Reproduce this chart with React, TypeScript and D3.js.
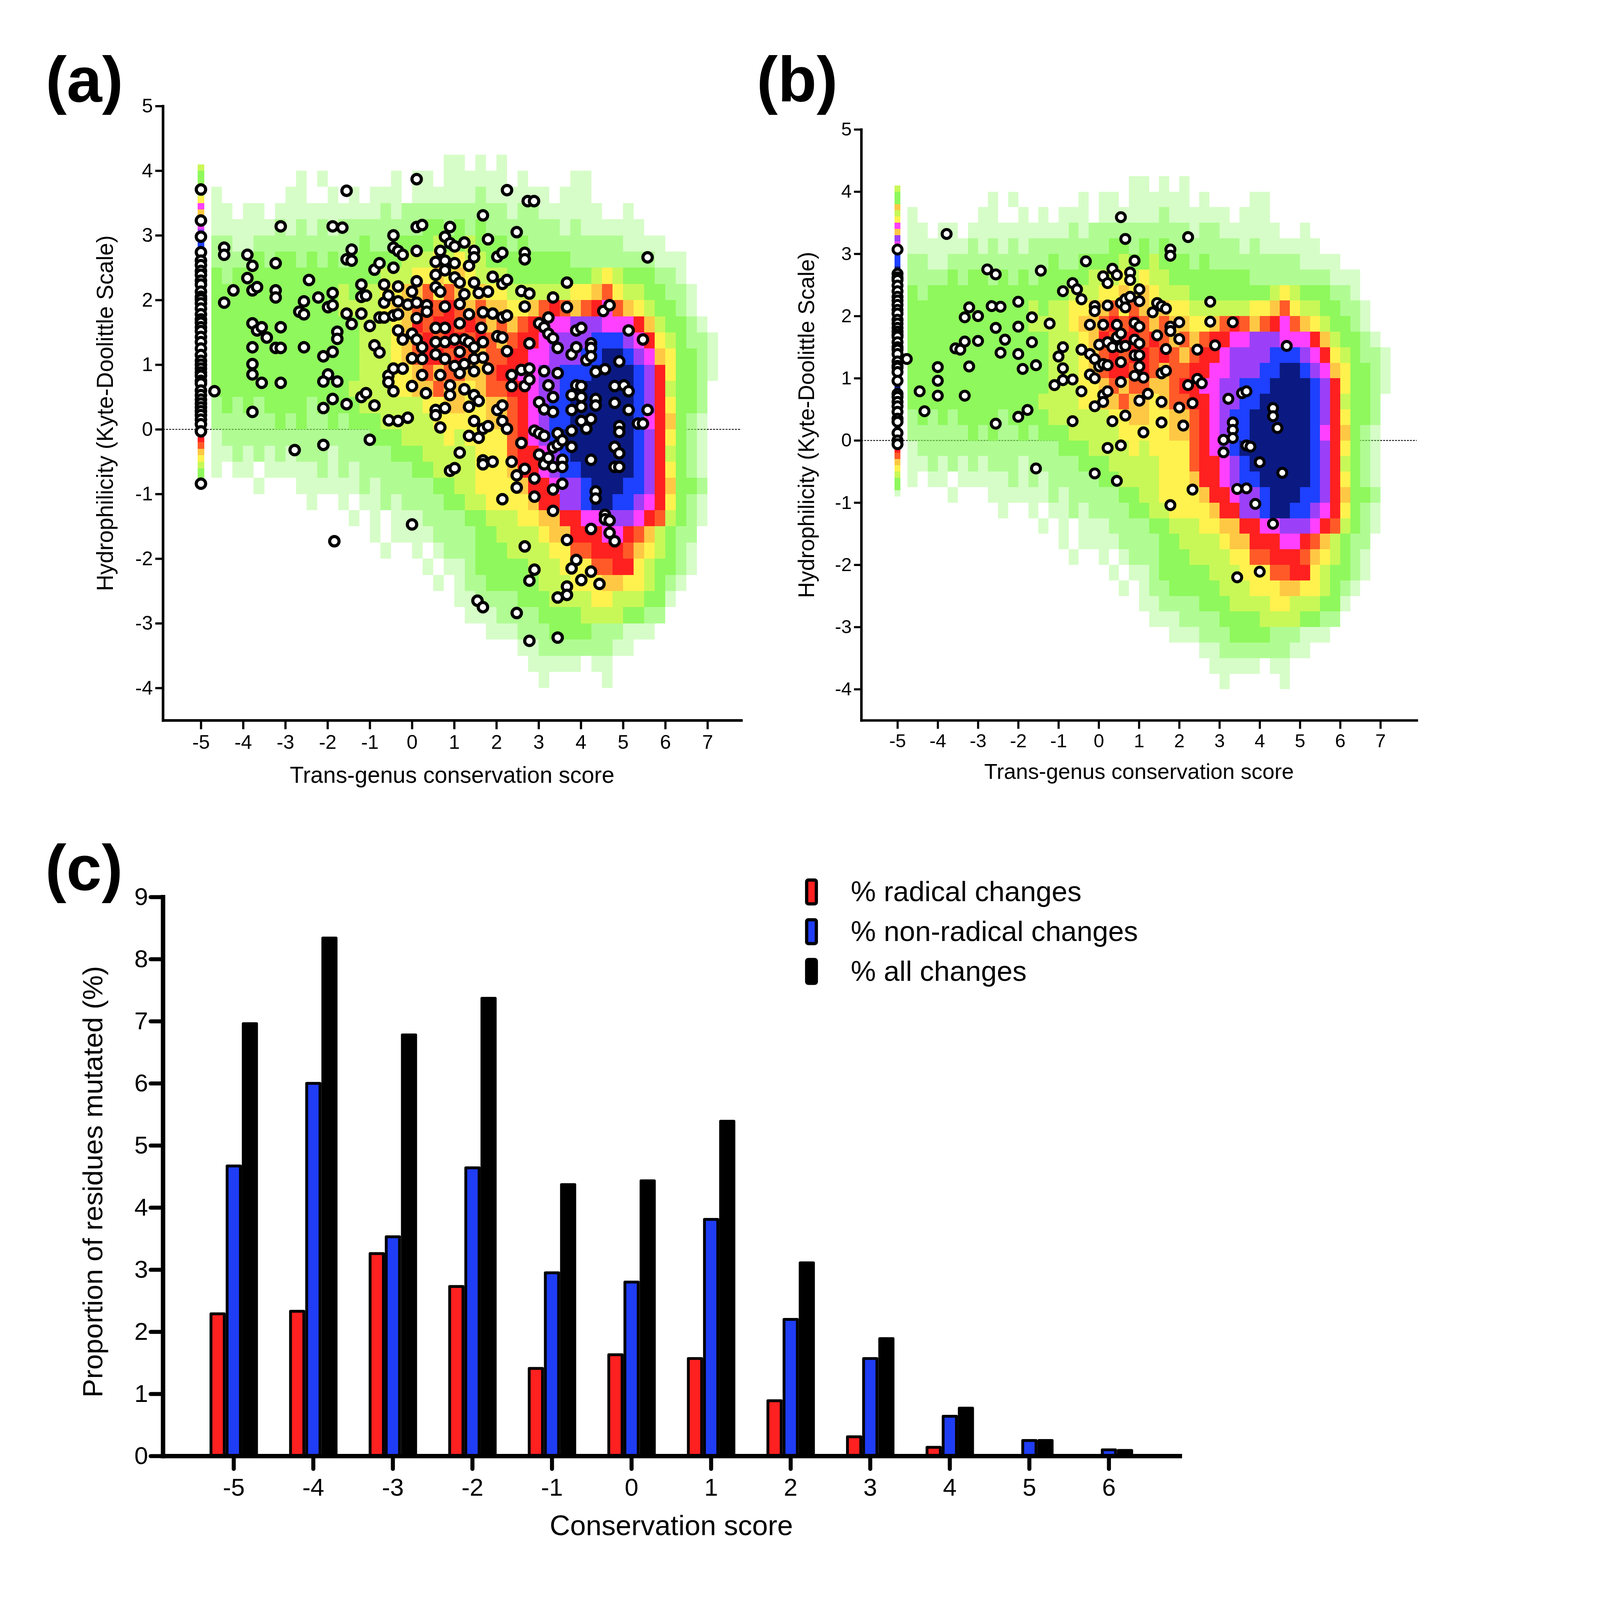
import { useEffect, useRef } from "react";
import * as d3 from "d3";

const FONT = "'Liberation Sans', Arial, Helvetica, sans-serif";
const W = 7434;
const H = 7934;

const hydroDomain = [-4.5, 5];
const scoreTicks = [-5, -4, -3, -2, -1, 0, 1, 2, 3, 4, 5, 6, 7];
const hydroTicks = [-4, -3, -2, -1, 0, 1, 2, 3, 4, 5];

// background density of all residues (same in (a) and (b))
// 0.25 x 0.25 bins, first column starts at x = -4.75, first row tops at y = 4.25
// column groups: -4.75..-4 | -4..-3 | -3..-2 | -2..-1 | -1..0 | 0..1 | 1..2 | 2..3 | 3..4 | 4..5 | 5..6 | 6..7 | 7..7.25
const densityX0 = -4.75;
const densityY0 = 4.25;
const densityStep = 0.25;
const densityRows = [
  "...|....|....|....|....|...a|a.a.|a...|....|....|....|....|.",
  "...|....|.a.a|....|..a.|aa.a|aaaa|a.a.|...a|a...|....|....|.",
  "a..|....|aa..|a.a.|aaa.|aaaa|aaba|aaaa|a.aa|a...|....|....|.",
  "aa.|aa.a|aaaa|aaaa|abab|bbbb|bbbb|babb|aaaa|aa..|a...|....|.",
  "aaa|aaab|abab|abbb|bbbb|bggb|gbgb|bbbb|bbab|aaaa|aa..|....|.",
  "bba|abbb|bbbb|bbbg|bbgg|ggyg|gygg|gbgb|bbbb|bbbb|aaaa|....|.",
  "bbb|bgbg|gbgb|gbgg|gggy|yyYy|Yyyg|gggg|gggb|bbbb|bbba|aa..|.",
  "gbg|gggg|gggg|gggg|gyyy|YYoY|oYyy|yggg|gggg|gyYy|gggb|ba..|.",
  "ggg|gggg|gggg|gygy|yYYo|oOYO|oYoY|Yyyy|yyyY|YoOY|yygg|bba.|.",
  "ggg|gggg|gggg|gyyy|yYoo|OrOr|OoOo|oYYo|OrOo|OrmO|oYyg|gba.|.",
  "ggg|gggg|gggg|gggy|yyYo|rOrr|OrOo|OoOr|rmmp|ppmm|mroy|ggba|.",
  "ggg|gggg|gggg|gggy|yyYo|OrOr|rOrO|oOrr|mppp|pBBB|pmrY|ygbb|a",
  "ggg|gggg|gggg|gggy|yyYo|OrrO|rOoO|Orrm|mppp|BBNN|Bpmo|Yggb|a",
  "ggg|gggg|gggg|gggy|yyYY|oOoO|OooO|rrmm|ppBB|BNNN|NBpr|Yggb|a",
  "ggg|gggg|gggg|ggyy|yyYY|ooOo|oYoO|Orrm|ppBB|NNNN|NBpr|yggb|.",
  "bgb|gbgg|ggbg|gggy|yyyy|yYYo|oYYo|oOrm|pBBN|NNNN|NBpr|Yggb|.",
  "bbb|bbbg|bgbb|gbgg|gyyy|yyYY|YYYo|oOrm|pBBN|NNNN|NBmr|ogba|.",
  "abb|bbbb|bbbb|bbbb|gggy|yyyY|yYYY|YOrm|pBNN|NNNN|NBpr|Ygba|.",
  "aab|abab|abbb|abbb|bbgg|gyyy|yyYY|YOrr|mpBN|NNNN|NBpr|ygba|.",
  "a.a|a.aa|aaab|abab|bbbb|ggyy|yyYY|Yorr|mpBB|NNNN|NBpr|Ygba|.",
  "...|.a..|.aaa|aaab|abbb|bbgg|yyYY|YYor|rmpp|BNNN|BBpr|oggb|.",
  "...|....|..a.|.a.a|abab|bbbg|gyyY|YYYo|rrpp|BNNB|Bpmr|Ygba|.",
  "...|....|....|..a.|a.aa|abbb|bggy|yyYY|oorr|mmpp|pmrO|ygba|.",
  "...|....|....|....|a.aa|aabb|bbgg|yyyy|Yoor|rrmm|rOoy|gbb.|.",
  "...|....|....|....|.a..|a.ab|bbgg|gyyy|yYYO|Orrr|OoYy|gba.|.",
  "...|....|....|....|....|.a.a|abgg|gggy|yyYY|YOOr|rYyg|gba.|.",
  "...|....|....|....|....|..a.|abbg|gggg|yyyY|YYoo|YYyg|ba..|.",
  "...|....|....|....|....|....|aabb|bbgg|gyyy|yYYy|yygg|a...|.",
  "...|....|....|....|....|....|.aaa|bbbb|gggg|yyyy|ggbb|....|.",
  "...|....|....|....|....|....|...a|aabb|bggg|gbbb|aaa.|....|.",
  "...|....|....|....|....|....|....|..aa|bbbb|bbba|a...|....|.",
  "...|....|....|....|....|....|....|...a|aaaa|.aa.|....|....|.",
  "...|....|....|....|....|....|....|....|a...|..a.|....|....|.",
];

// residues scored exactly -5: 0.1-high bins from y = 4.1 downward
const stripTop = 4.1;
const stripStep = 0.1;
const stripBins = "yggoyYmopmpBBNNNNNNNNNNNNNNNNNNNNNNNNNNNpmrOoYygga";

const densityColors: Record<string, [string, number]> = {
  a: ["#80fa50", 0.32],
  b: ["#80fa50", 0.62],
  g: ["#8ff85c", 1],
  y: ["#c8f858", 1],
  Y: ["#fff24e", 1],
  o: ["#ffc844", 1],
  O: ["#ff5a28", 1],
  r: ["#ff2020", 1],
  m: ["#ff40ff", 1],
  p: ["#9b40f8", 1],
  B: ["#1e40ff", 1],
  N: ["#0a1a82", 1],
};

// (a) mutated residues
const columnA = [3.71, 3.23, 2.98, 2.74, 2.61, 2.54, 2.45, 2.39, 2.3, 2.24, 2.13, 2.05, 2.01, 1.95, 1.87, 1.78, 1.7, 1.65, 1.58, 1.52, 1.43, 1.35, 1.25, 1.15, 1.06, 1.0, 0.94, 0.88, 0.83, 0.75, 0.71, 0.6, 0.53, 0.46, 0.4, 0.34, 0.28, 0.22, 0.15, 0.08, -0.03, -0.84];
const pointsA: [number, number][] = [
  [-4.68, 0.59], [-4.45, 2.81], [-4.45, 2.7], [-4.45, 1.96], [-4.23, 2.15], [-3.9, 2.7], [-3.9, 2.34], [-3.78, 2.53], [-3.78, 2.15], [-3.67, 2.2],
  [-3.78, 1.64], [-3.67, 1.53], [-3.56, 1.58], [-3.44, 1.42], [-3.78, 1.27], [-3.78, 1.01], [-3.78, 0.85], [-3.56, 0.72], [-3.78, 0.27], [-3.23, 2.57],
  [-3.23, 2.15], [-3.23, 2.04], [-3.11, 3.14], [-3.11, 1.58], [-3.23, 1.26], [-3.11, 1.26], [-3.11, 0.72], [-2.78, -0.32], [-2.67, 1.82], [-2.56, 1.98],
  [-2.56, 1.78], [-2.44, 2.31], [-2.56, 1.27], [-2.22, 2.04], [-2.1, 1.13], [-1.99, 0.85], [-1.99, 1.89], [-1.88, 2.11], [-1.88, 1.92], [-1.88, 3.14],
  [-1.65, 3.12], [-2.1, 0.74], [-1.77, 0.74], [-2.1, 0.33], [-1.88, 0.47], [-2.1, -0.24], [-1.88, 1.2], [-1.77, 1.51], [-1.77, 1.4], [-1.55, 3.69],
  [-1.55, 2.63], [-1.43, 2.78], [-1.43, 2.61], [-1.55, 1.79], [-1.43, 1.63], [-1.55, 0.39], [-1.2, 2.24], [-1.2, 2.05], [-1.09, 2.07], [-1.2, 1.79],
  [-1.0, 1.6], [-1.2, 0.5], [-1.09, 0.56], [-0.89, 1.3], [-0.77, 1.19], [-0.89, 2.47], [-0.77, 2.57], [-0.89, 0.37], [-1.0, -0.16], [-0.77, 1.73],
  [-0.66, 1.73], [-0.66, 2.24], [-0.66, 1.96], [-0.56, 2.07], [-0.56, 0.83], [-0.56, 0.73], [-0.44, 3.0], [-0.44, 2.81], [-0.44, 2.5], [-0.44, 1.76],
  [-0.44, 0.94], [-0.44, 0.59], [-0.33, 2.76], [-0.22, 2.7], [-0.33, 2.21], [-0.33, 1.98], [-0.33, 1.78], [-0.33, 1.53], [-0.22, 1.39], [-0.22, 0.94],
  [-0.55, 0.14], [-0.33, 0.13], [-0.1, 0.18], [-0.1, 1.93], [0.0, 2.13], [0.0, 1.48], [0.0, 1.1], [0.0, 0.67], [0.0, -1.47], [0.11, 3.87],
  [0.11, 3.13], [0.24, 3.16], [0.11, 2.76], [0.11, 2.29], [0.11, 1.96], [0.11, 1.72], [0.11, 1.39], [0.24, 1.27], [0.24, 1.09], [0.24, 0.84],
  [0.33, 0.56], [0.35, 1.92], [0.35, 1.82], [0.56, 2.59], [0.56, 2.39], [0.56, 2.2], [0.56, 1.57], [0.56, 1.35], [0.56, 1.16], [0.56, 0.3],
  [0.56, 0.22], [0.67, 2.76], [0.67, 2.13], [0.67, 0.84], [0.67, 0.03], [0.78, 2.98], [0.78, 2.61], [0.78, 2.46], [0.78, 1.9], [0.78, 1.57],
  [0.78, 1.35], [0.78, 1.09], [0.78, 0.33], [0.9, 3.13], [0.9, 2.88], [0.9, 0.68], [0.9, 0.53], [0.9, -0.64], [1.01, -0.6], [1.01, 2.83],
  [1.01, 2.57], [1.01, 2.35], [1.01, 1.39], [1.01, 0.98], [1.13, 2.27], [1.13, 1.94], [1.13, 1.64], [1.13, 1.2], [1.13, 0.87], [1.13, -0.36],
  [1.24, 2.89], [1.24, 2.09], [1.24, 1.39], [1.24, 1.01], [1.24, 0.62], [1.35, 2.53], [1.35, 1.78], [1.35, 1.35], [1.35, 0.35], [1.35, -0.1],
  [1.47, 2.76], [1.47, 2.66], [1.47, 2.27], [1.47, 1.27], [1.47, 1.09], [1.47, 0.9], [1.47, 0.53], [1.47, 0.13], [1.58, 0.44], [1.58, -0.13],
  [1.58, 2.11], [1.64, 1.57], [1.68, 3.31], [1.68, 1.81], [1.68, 1.35], [1.68, 1.11], [1.68, -0.48], [1.68, -0.54], [1.68, 0.01], [1.8, 2.94],
  [1.8, 2.13], [1.8, 0.94], [1.8, 0.05], [1.91, 2.36], [1.91, 1.79], [1.91, -0.5], [2.02, 2.67], [2.02, 1.44], [2.02, 0.3], [2.14, 2.73],
  [2.14, 2.25], [2.14, 1.73], [2.14, 1.42], [2.14, 0.37], [2.14, 0.13], [2.14, -1.08], [2.25, 3.7], [2.25, 2.31], [2.25, 1.76], [2.25, 1.21],
  [2.25, 0.01], [2.36, 0.84], [2.36, 0.67], [2.36, -0.5], [2.48, 3.05], [2.48, -0.71], [2.48, -0.9], [2.48, -2.84], [2.59, 2.14], [2.59, 0.92],
  [2.59, -0.21], [2.67, 2.73], [2.67, 2.63], [2.67, 1.9], [2.67, 0.67], [2.67, -1.81], [2.67, -0.61], [2.74, 3.53], [2.89, 3.53], [2.78, 2.1],
  [2.78, 1.33], [2.78, 0.94], [2.78, 0.77], [2.78, -2.34], [2.78, -3.27], [2.9, -0.02], [2.9, -0.76], [2.9, -1.04], [2.9, -2.17], [3.01, 1.64],
  [3.01, 0.42], [3.01, -0.06], [3.01, -0.39], [3.13, 1.58], [3.13, 0.9], [3.13, 0.31], [3.13, -0.1], [3.13, -0.54], [3.23, 1.73], [3.23, 1.48],
  [3.23, 0.68], [3.23, -0.44], [3.34, 2.04], [3.34, 1.41], [3.34, 0.5], [3.34, 0.27], [3.34, -0.28], [3.34, -0.58], [3.34, -0.93], [3.34, -1.26],
  [3.45, 1.26], [3.45, 0.87], [3.45, -0.06], [3.45, -0.24], [3.45, -2.6], [3.45, -3.22], [3.56, -0.17], [3.56, -0.47], [3.56, -0.58], [3.56, -0.84],
  [3.67, 2.27], [3.67, 1.89], [3.67, -1.71], [3.67, -2.43], [3.67, -2.56], [3.78, 1.16], [3.78, 0.53], [3.78, 0.3], [3.78, -0.02], [3.78, -0.27],
  [3.78, -2.15], [3.89, 1.53], [3.89, 1.27], [3.89, 0.68], [3.89, -2.02], [4.01, 1.57], [4.01, 0.67], [4.01, 0.5], [4.01, 0.35], [4.01, 0.13],
  [4.01, -2.33], [4.13, 1.07], [4.13, 0.01], [4.24, 1.33], [4.24, 1.26], [4.24, 1.13], [4.24, 0.16], [4.24, -0.47], [4.24, -1.54], [4.24, -2.2],
  [4.35, 0.89], [4.35, 0.47], [4.35, 0.37], [4.35, -0.96], [4.35, -1.07], [4.44, -2.39], [4.57, 0.93], [4.57, -1.32], [4.57, -1.39], [4.68, -1.6],
  [4.68, -1.41], [4.8, -1.73], [4.53, 1.83], [4.68, 1.92], [4.8, 0.67], [4.8, 0.41], [4.8, -0.27], [4.8, -0.58], [4.91, 1.05], [4.91, 0.05],
  [4.91, -0.04], [4.91, -0.37], [4.91, -0.58], [5.02, 0.68], [5.13, 1.53], [5.13, 0.59], [5.13, 0.3], [5.35, 0.09], [5.47, 0.09], [5.47, 1.39],
  [5.58, 0.3], [5.58, 2.66], [-1.84, -1.73], [1.55, -2.65], [1.68, -2.75],
];

// (b) mutated residues
const columnB = [3.07, 2.68, 2.62, 2.58, 2.49, 2.4, 2.31, 2.25, 2.18, 2.1, 2.04, 1.94, 1.88, 1.81, 1.75, 1.7, 1.67, 1.58, 1.5, 1.46, 1.39, 1.27, 1.2, 1.17, 1.1, 0.96, 0.75, 0.7, 0.62, 0.55, 0.46, 0.35, 0.3, 0.12, 0.0, -0.06];
const pointsB: [number, number][] = [
  [-4.77, 1.31], [-4.45, 0.79], [-4.33, 0.47], [-4.0, 1.18], [-4.0, 0.96], [-4.0, 0.72], [-3.78, 3.32], [-3.56, 1.48], [-3.44, 1.46], [-3.33, 1.98],
  [-3.33, 1.59], [-3.33, 0.72], [-3.22, 2.14], [-3.22, 1.19], [-3.0, 2.0], [-3.0, 1.6], [-2.77, 2.75], [-2.66, 2.16], [-2.56, 2.67], [-2.56, 1.81],
  [-2.56, 0.27], [-2.44, 2.15], [-2.44, 1.41], [-2.33, 1.62], [-2.0, 2.23], [-2.0, 1.83], [-2.0, 1.39], [-2.0, 0.38], [-1.89, 1.15], [-1.77, 0.49],
  [-1.66, 1.98], [-1.66, 1.58], [-1.56, 1.21], [-1.56, -0.45], [-1.44, 2.73], [-1.22, 1.88], [-1.1, 0.89], [-1.0, 1.35], [-0.89, 2.4], [-0.89, 1.5],
  [-0.89, 1.16], [-0.89, 0.97], [-0.65, 2.53], [-0.65, 0.98], [-0.65, 0.31], [-0.54, 2.43], [-0.43, 2.27], [-0.43, 1.46], [-0.43, 0.79], [-0.32, 2.88],
  [-0.22, 1.86], [-0.22, 1.39], [-0.22, 1.06], [-0.1, 2.16], [-0.1, 2.08], [-0.1, 1.31], [-0.1, 1.0], [-0.1, 0.55], [-0.1, -0.53], [0.01, 1.54],
  [0.01, 1.19], [0.11, 2.64], [0.11, 1.86], [0.11, 1.23], [0.11, 0.73], [0.11, 0.62], [0.22, 2.53], [0.22, 2.17], [0.22, 1.58], [0.22, 1.21],
  [0.22, 0.79], [0.22, -0.12], [0.34, 2.76], [0.34, 1.5], [0.34, 0.31], [0.45, 2.66], [0.45, 1.86], [0.45, 1.66], [0.45, -0.65], [0.55, 3.59],
  [0.55, 2.21], [0.55, 1.72], [0.55, 1.5], [0.55, 1.26], [0.55, 0.94], [0.55, -0.08], [0.66, 3.24], [0.66, 2.27], [0.66, 2.14], [0.66, 1.52],
  [0.66, 0.4], [0.78, 2.7], [0.78, 2.58], [0.78, 2.31], [0.89, 2.89], [0.89, 1.89], [0.89, 1.62], [0.89, 1.37], [0.89, 1.04], [1.01, 2.43],
  [1.01, 2.24], [1.01, 1.83], [1.01, 1.56], [1.01, 1.37], [1.01, 1.19], [1.01, 0.64], [1.11, 1.01], [1.11, 0.13], [1.22, 0.75], [1.34, 2.06],
  [1.45, 2.21], [1.45, 1.69], [1.56, 2.16], [1.56, 1.08], [1.56, 0.62], [1.56, 0.29], [1.67, 2.12], [1.67, 1.47], [1.67, 1.12], [1.78, 3.07],
  [1.78, 2.97], [1.78, 1.83], [1.78, 1.76], [1.78, -1.04], [2.0, 1.9], [2.0, 1.63], [2.0, 0.53], [2.1, 0.24], [2.22, 3.27], [2.22, 0.89],
  [2.33, 0.6], [2.33, -0.79], [2.45, 0.99], [2.45, 1.46], [2.56, 0.92], [2.77, 2.23], [2.77, 1.91], [2.89, 1.53], [3.1, 0.01], [3.1, -0.19],
  [3.22, 0.67], [3.33, 1.9], [3.33, 0.29], [3.33, 0.17], [3.33, 0.04], [3.44, -0.78], [3.44, -2.2], [3.56, 0.76], [3.67, 0.79], [3.67, -0.77],
  [3.67, -0.08], [3.77, -0.1], [3.89, -1.02], [4.0, -0.35], [4.0, -2.11], [4.33, -1.34], [4.33, 0.52], [4.33, 0.39], [4.44, 0.2], [4.56, -0.52],
  [4.67, 1.52],
];

// (c) proportion of residues mutated (%)
const barScores = ["-5", "-4", "-3", "-2", "-1", "0", "1", "2", "3", "4", "5", "6"];
const radicalPct = [2.29, 2.33, 3.26, 2.73, 1.41, 1.63, 1.57, 0.89, 0.31, 0.14, 0.01, 0];
const nonRadicalPct = [4.67, 6.0, 3.53, 4.64, 2.95, 2.8, 3.81, 2.2, 1.57, 0.64, 0.25, 0.1];
const allPct = [6.96, 8.34, 6.78, 7.37, 4.37, 4.43, 5.39, 3.11, 1.89, 0.77, 0.25, 0.09];
const seriesNames = ["% radical changes", "% non-radical changes", "% all changes"];
const seriesColors = ["#ff2020", "#1f3df5", "#000000"];
const pctTicks = [0, 1, 2, 3, 4, 5, 6, 7, 8, 9];

type PanelProps = {
  left: number;
  right: number;
  top: number;
  bottom: number;
  xMax: number;
  k: number;
  tag: string;
  tagX: number;
  yTitleX: number;
  yTitleSize: number;
  xTitleY: number;
  points: [number, number][];
  column: number[];
};

function ScatterPanel(props: PanelProps) {
  const { left, right, top, bottom, xMax, k, tag, tagX, yTitleX, yTitleSize, xTitleY, points, column } = props;
  const xRef = useRef<SVGGElement>(null);
  const yRef = useRef<SVGGElement>(null);
  const x = d3.scaleLinear().domain([-5.9, xMax]).range([left, right]);
  const y = d3.scaleLinear().domain(hydroDomain).range([bottom, top]);

  useEffect(() => {
    const gx = d3.select(xRef.current!);
    gx.call(
      d3.axisBottom(x).tickValues(scoreTicks).tickFormat((d) => String(d))
        .tickSizeInner(44 * k).tickSizeOuter(0).tickPadding(27 * k)
    );
    const gy = d3.select(yRef.current!);
    gy.call(
      d3.axisLeft(y).tickValues(hydroTicks).tickFormat((d) => String(d))
        .tickSizeInner(38 * k).tickSizeOuter(0).tickPadding(12 * k)
    );
    [gx, gy].forEach((g) => {
      g.select(".domain").attr("stroke-width", 13 * k).attr("stroke-linecap", "square");
      g.selectAll(".tick line").attr("stroke-width", 11 * k);
      g.selectAll(".tick text").attr("font-size", 98 * k).attr("font-family", FONT).attr("fill", "#000");
    });
  }, []);

  const cells = densityRows.flatMap((row, j) =>
    row.replace(/\|/g, "").split("").map((c, i) => ({
      c,
      x0: densityX0 + i * densityStep,
      y0: densityY0 - j * densityStep,
    }))
  ).filter((d) => densityColors[d.c]);

  const strip = stripBins.split("").map((c, i) => ({ c, y0: stripTop - i * stripStep }))
    .filter((d) => densityColors[d.c]);

  const r = 23.3 * k;
  const sw = 15.5 * k;

  return (
    <g>
      <line x1={left} x2={right} y1={y(0)} y2={y(0)}
        stroke="#000" strokeWidth={4.5 * k} strokeDasharray={`${9.5 * k} ${6 * k}`} />
      <g shapeRendering="crispEdges">
        {cells.map((d, i) => (
          <rect key={i} x={x(d.x0)} y={y(d.y0)}
            width={x(d.x0 + densityStep) - x(d.x0)} height={y(d.y0 - densityStep) - y(d.y0)}
            fill={densityColors[d.c][0]} fillOpacity={densityColors[d.c][1]} />
        ))}
        {strip.map((d, i) => (
          <rect key={i} x={x(-5.075)} y={y(d.y0)}
            width={x(-4.925) - x(-5.075)} height={y(d.y0 - stripStep) - y(d.y0)}
            fill={densityColors[d.c][0]} fillOpacity={densityColors[d.c][1]} />
        ))}
      </g>
      <g fill="#fff" stroke="#000" strokeWidth={sw}>
        {column.map((v, i) => <circle key={"c" + i} cx={x(-5)} cy={y(v)} r={r} />)}
        {points.map(([px, py], i) => <circle key={i} cx={x(px)} cy={y(py)} r={r} />)}
      </g>
      <g ref={xRef} transform={`translate(0,${bottom})`} />
      <g ref={yRef} transform={`translate(${left},0)`} />
      <text x={(left + right) / 2} y={xTitleY} textAnchor="middle" fontSize={113 * k} fontFamily={FONT}>
        Trans-genus conservation score
      </text>
      <text transform={`translate(${yTitleX},${(top + bottom) / 2}) rotate(-90)`} textAnchor="middle"
        fontSize={yTitleSize} fontFamily={FONT}>
        Hydrophilicity (Kyte-Doolittle Scale)
      </text>
      <text x={tagX} y={504} fontSize={315} fontWeight="bold" fontFamily={FONT}>{tag}</text>
    </g>
  );
}

function BarPanel() {
  const xRef = useRef<SVGGElement>(null);
  const yRef = useRef<SVGGElement>(null);
  const x = d3.scaleBand<string>().domain(barScores).range([808, 5850]).paddingOuter(0.39).paddingInner(0);
  const inner = d3.scaleBand<string>().domain(seriesNames).range([-120, 120]);
  const y = d3.scaleLinear().domain([0, 9]).range([7220, 4448]);
  const values = [radicalPct, nonRadicalPct, allPct];

  useEffect(() => {
    const gx = d3.select(xRef.current!);
    gx.call(d3.axisBottom(x).tickSizeInner(64).tickSizeOuter(0).tickPadding(46));
    const gy = d3.select(yRef.current!);
    gy.call(d3.axisLeft(y).tickValues(pctTicks).tickFormat((d) => String(d)).tickSizeInner(61).tickSizeOuter(0).tickPadding(13));
    [gx, gy].forEach((g) => {
      g.select(".domain").attr("stroke-width", 22).attr("stroke-linecap", "square");
      g.selectAll(".tick line").attr("stroke-width", 20).attr("stroke-linecap", "round");
      g.selectAll(".tick text").attr("font-size", 122).attr("font-family", FONT).attr("fill", "#000");
    });
  }, []);

  return (
    <g>
      {values.map((series, s) =>
        series.map((v, i) =>
          v > 0 ? (
            <rect key={`${s}-${i}`}
              x={x(barScores[i])! + x.bandwidth() / 2 + inner(seriesNames[s])! + 7}
              y={y(v)} width={inner.bandwidth() - 14} height={y(0) - y(v)}
              fill={seriesColors[s]} stroke="#000" strokeWidth={14} strokeLinejoin="round" />
          ) : null
        )
      )}
      <g ref={xRef} transform="translate(0,7220)" />
      <g ref={yRef} transform="translate(808,0)" />
      <text x={3329} y={7612} textAnchor="middle" fontSize={140} fontFamily={FONT}>Conservation score</text>
      <text transform="translate(507,5860) rotate(-90)" textAnchor="middle" fontSize={138} fontFamily={FONT}>
        Proportion of residues mutated (%)
      </text>
      {seriesNames.map((name, i) => (
        <g key={name}>
          <rect x={4000} y={4364 + 197 * i} width={48} height={118} rx={8}
            fill={seriesColors[i]} stroke="#000" strokeWidth={16} />
          <text x={4219} y={4469 + 197.5 * i} fontSize={140} fontFamily={FONT}>{name}</text>
        </g>
      ))}
      <text x={224} y={4413} fontSize={315} fontWeight="bold" fontFamily={FONT}>(c)</text>
    </g>
  );
}

export default function App() {
  useEffect(() => {
    document.body.style.margin = "0";
  }, []);
  return (
    <svg viewBox={`0 0 ${W} ${H}`} preserveAspectRatio="xMinYMin meet"
      style={{ display: "block", width: "100vw", height: "100vh", background: "#fff" }}>
      <rect width={W} height={H} fill="#fff" />
      <ScatterPanel left={808} right={3676} top={526} bottom={3572} xMax={7.8} k={1} tag="(a)" tagX={226}
        yTitleX={560} yTitleSize={113} xTitleY={3881} points={pointsA} column={columnA} />
      <ScatterPanel left={4271} right={7025} top={642} bottom={3572} xMax={7.9} k={0.954} tag="(b)" tagX={3752}
        yTitleX={4037} yTitleSize={110} xTitleY={3862} points={pointsB} column={columnB} />
      <BarPanel />
    </svg>
  );
}
